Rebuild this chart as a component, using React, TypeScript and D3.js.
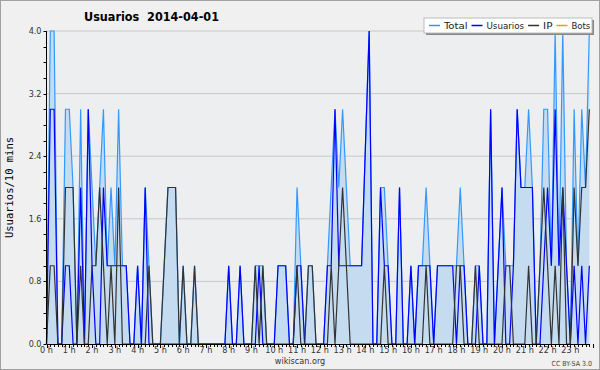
import React from 'react';
import * as d3 from 'd3';

// one value every 10 minutes, 144 slots for the day
const usuarios = [
  0, 3, 3, 0, 0, 1, 1, 0, 0, 2, 0, 3, 1, 0, 0, 2, 1, 1, 1, 1, 1, 1, 0, 0,
  1, 0, 2, 0, 0, 0, 0, 0, 0, 0, 0, 0, 0, 0, 0, 0, 0, 0, 0, 0, 0, 0, 0, 0,
  1, 0, 0, 1, 0, 0, 0, 0, 1, 0, 0, 0, 0, 1, 1, 1, 0, 0, 1, 1, 0, 0, 0, 0,
  0, 0, 1, 1, 3, 1, 1, 1, 1, 1, 1, 1, 2.5, 4, 0, 0, 2, 1, 1, 0, 0, 2, 0, 0,
  1, 0, 1, 1, 1, 1, 0, 1, 1, 1, 1, 1, 0, 1, 1, 0, 0, 0, 1, 0, 0, 3, 0, 1,
  2, 0, 0, 1, 3, 2, 2, 2, 2, 0, 0, 1, 2, 1, 3, 1, 2, 1, 0, 1, 0, 1, 0, 1,
];
const ip = [
  0, 1, 1, 0, 0, 2, 2, 2, 0, 1, 0, 0, 1, 1, 2, 1, 0, 1, 0, 2, 0, 0, 0, 0,
  0, 0, 0, 1, 0, 0, 0, 1, 2, 2, 2, 0, 1, 0, 0, 1, 0, 0, 0, 0, 0, 0, 0, 0,
  0, 0, 0, 0, 0, 0, 0, 1, 0, 1, 0, 0, 0, 0, 0, 0, 0, 0, 1, 0, 0, 1, 1, 0,
  0, 0, 0, 1, 0, 1, 2, 1, 0, 0, 0, 0, 0, 0, 0, 0, 0, 1, 0, 0, 0, 0, 0, 0,
  0, 0, 0, 0, 1, 0, 0, 0, 0, 0, 0, 0, 1, 1, 0, 0, 0, 1, 0, 0, 0, 0, 0, 0,
  0, 1, 1, 0, 0, 0, 0, 1, 0, 0, 1, 2, 1, 0, 1, 0, 2, 0, 0, 2, 1, 2, 2, 3,
];
const total = [
  0, 4, 4, 0, 0, 3, 3, 2, 0, 3, 0, 3, 2, 1, 2, 3, 1, 2, 1, 3, 1, 1, 0, 0,
  1, 0, 2, 1, 0, 0, 0, 1, 2, 2, 2, 0, 1, 0, 0, 1, 0, 0, 0, 0, 0, 0, 0, 0,
  1, 0, 0, 1, 0, 0, 0, 1, 1, 1, 0, 0, 0, 1, 1, 1, 0, 0, 2, 1, 0, 1, 1, 0,
  0, 0, 1, 2, 3, 2, 3, 2, 1, 1, 1, 1, 2.5, 4, 0, 0, 2, 2, 1, 0, 0, 2, 0, 0,
  1, 0, 1, 1, 2, 1, 0, 1, 1, 1, 1, 1, 1, 2, 1, 0, 0, 1, 1, 0, 0, 3, 0, 1,
  2, 1, 1, 1, 3, 2, 2, 3, 2, 0, 1, 3, 3, 1, 4, 1, 4, 1, 0, 3, 1, 3, 2, 4,
];
const hourLabels = d3.range(24).map((h) => `${h} h`);
const yTicks = [0, 0.8, 1.6, 2.4, 3.2, 4.0];
const legendItems = [
  { name: 'Total', color: '#3399ff' },
  { name: 'Usuarios', color: '#0000ff' },
  { name: 'IP', color: '#333333' },
  { name: 'Bots', color: '#ff9900' },
];

const W = 600;
const H = 370;
const left = 46.5;
const right = 590;
const top = 31;
const bottom = 344;

export default function App() {
  const x = d3.scaleLinear().domain([0, 144]).range([left, left + 144 * 3.796]);
  const y = d3.scaleLinear().domain([0, 4]).range([bottom, top]);
  const idx = d3.range(total.length);

  const area = d3.area<number>()
    .x((i) => x(i))
    .y0(y(0))
    .y1((i) => y(total[i]));
  const line = (vals: number[]) =>
    d3.line<number>().x((i) => x(i)).y((i) => y(vals[i]))(idx) as string;

  const minorY = d3.range(0, 4.001, 0.2);
  const font = '"DejaVu Sans Condensed", "DejaVu Sans", sans-serif';

  // legend entries laid out left to right
  let lx = 429;
  const legend = legendItems.map((it) => {
    const tw = it.name.length * 4.7;
    const g = { ...it, x: lx, tw };
    lx += 11 + 4 + tw + 4;
    return g;
  });

  return (
    <svg width={W} height={H} style={{ position: 'fixed', left: 0, top: 0 }} fontFamily={font}>
      <rect x={0.5} y={0.5} width={W - 1} height={H - 1} fill="#f0f0f0" stroke="#a0a0a0" />
      <rect x={left} y={top} width={right - left} height={bottom - top} fill="#eceef0" />

      {yTicks.slice(1).map((t) => (
        <line key={t} x1={left} x2={right} y1={y(t)} y2={y(t)} stroke="#c8c8c8" />
      ))}

      <path d={area(idx) as string} fill="#c5dcf0" />
      <path d={line(total)} fill="none" stroke="#3399ff" strokeWidth={1.2} />
      <path d={line(usuarios)} fill="none" stroke="#0000ff" strokeWidth={1.2} />
      <path d={line(ip)} fill="none" stroke="#333333" strokeWidth={1.2} />

      {/* y axis */}
      <line x1={left} x2={left} y1={top} y2={bottom} stroke="#000" />
      {minorY.map((t) => (
        <line key={t} x1={left - 3} x2={left} y1={Math.round(y(t)) + 0.5} y2={Math.round(y(t)) + 0.5} stroke="#000" />
      ))}
      {yTicks.map((t) => (
        <text key={t} x={left - 5} y={y(t) + 3} fontSize={9} textAnchor="end" fill="#333">
          {t.toFixed(1)}
        </text>
      ))}
      <text
        transform={`translate(13,${(top + bottom) / 2}) rotate(-90)`}
        textAnchor="middle"
        fontSize={10.5}
        fontFamily='"DejaVu Sans Mono", monospace'
        fill="#000"
      >
        Usuarios/10 mins
      </text>

      {/* x axis */}
      <line x1={left} x2={right} y1={bottom + 0.5} y2={bottom + 0.5} stroke="#000" />
      {idx.concat([144]).map((i) => (
        <line key={i} x1={Math.round(x(i)) + 0.5} x2={Math.round(x(i)) + 0.5} y1={bottom} y2={bottom + (i % 6 === 0 ? 4 : 3)} stroke="#000" />
      ))}
      {hourLabels.map((l, h) => (
        <text key={l} x={x(h * 6)} y={bottom + 9} fontSize={9} textAnchor="middle" fill="#333">
          {l}
        </text>
      ))}
      <text x={300} y={364} fontSize={9} textAnchor="middle" fill="#333">wikiscan.org</text>
      <text x={592} y={366} fontSize={7} textAnchor="end" fill="#444">CC BY-SA 3.0</text>

      {/* title */}
      <text x={84} y={21} fontSize={12.5} fontWeight="bold" fill="#000" style={{ whiteSpace: 'pre' }}>
        {'Usuarios  2014-04-01'}
      </text>

      {/* legend */}
      <rect x={426} y={20} width={168} height={15} fill="#888" />
      <rect x={424} y={18} width={168} height={15} fill="#fff" stroke="#bbb" />
      {legend.map((it) => (
        <g key={it.name}>
          <line x1={it.x} x2={it.x + 11} y1={25.5} y2={25.5} stroke={it.color} strokeWidth={1.5} />
          <text x={it.x + 15} y={29} fontSize={9.5} fill="#222" textLength={it.tw} lengthAdjust="spacingAndGlyphs">
            {it.name}
          </text>
        </g>
      ))}
    </svg>
  );
}
